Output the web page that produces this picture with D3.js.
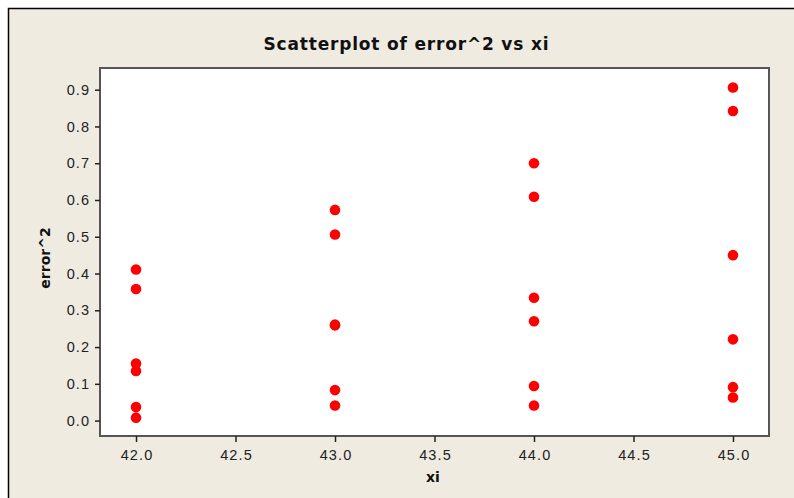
<!DOCTYPE html>
<html><head><meta charset="utf-8">
<script src="https://cdn.jsdelivr.net/npm/d3@7"></script>
<style>
html,body{margin:0;padding:0;background:#fff;}
svg{display:block;}
</style></head>
<body>
<script>
const title = "Scatterplot of error^2 vs xi";
const xLabel = "xi";
const yLabel = "error^2";
const xi = [42,42,42,42,42,42, 43,43,43,43,43,43, 44,44,44,44,44,44, 45,45,45,45,45,45];
const errorSq = [0.411,0.358,0.155,0.135,0.037,0.008,
                 0.573,0.506,0.261,0.259,0.083,0.041,
                 0.700,0.609,0.334,0.270,0.094,0.041,
                 0.906,0.842,0.450,0.221,0.091,0.063];
const xTicks = [42.0,42.5,43.0,43.5,44.0,44.5,45.0];
const yTicks = [0.0,0.1,0.2,0.3,0.4,0.5,0.6,0.7,0.8,0.9];

const W=794,H=498;
const L=100,R=769,T=68,B=436;
const svg=d3.select("body").append("svg").attr("width",W).attr("height",H);
svg.append("rect").attr("x",8).attr("y",8).attr("width",W).attr("height",H).attr("fill","#EFEBE1");
svg.append("path").attr("d",`M8.5,${H} V8.5 H${W}`).attr("fill","none").attr("stroke","#000").attr("stroke-width",1.5);

const x=d3.scaleLinear().domain([41.819,45.181]).range([L,R]);
const y=d3.scaleLinear().domain([-0.0419,0.959]).range([B,T]);

svg.append("rect").attr("x",L).attr("y",T).attr("width",R-L).attr("height",B-T)
  .attr("fill","#fff").attr("stroke","#555").attr("stroke-width",2);

const font="'Liberation Sans', Arial, sans-serif";
const tfont="'DejaVu Sans', Verdana, sans-serif";
const xa=svg.append("g").attr("transform",`translate(0,${B})`)
  .call(d3.axisBottom(x).tickValues(xTicks).tickFormat(d3.format(".1f")).tickSize(6).tickPadding(5));
const ya=svg.append("g").attr("transform",`translate(${L},0)`)
  .call(d3.axisLeft(y).tickValues(yTicks).tickFormat(d3.format(".1f")).tickSize(5).tickPadding(6));
[xa,ya].forEach(g=>{
  g.select(".domain").remove();
  g.selectAll(".tick line").attr("stroke","#222").attr("stroke-width",1.5);
  g.selectAll(".tick text").attr("fill","#222").style("font-family",font).style("font-size","14.5px").attr("letter-spacing","1.1px");
});
ya.selectAll(".tick text").attr("dx","1.1px");
xa.selectAll(".tick text").attr("dy","0.9em").attr("dx","0.5px");

svg.append("g").selectAll("circle").data(xi).join("circle")
  .attr("cx",(d)=>x(d)).attr("cy",(d,i)=>y(errorSq[i])).attr("r",5.3).attr("fill","#FF0000");

svg.append("text").attr("x",406).attr("y",50).attr("text-anchor","middle")
  .style("font-family",tfont).style("font-size","17px").style("font-weight","bold").attr("fill","#111")
  .attr("textLength",285).attr("lengthAdjust","spacing")
  .text(title);
svg.append("text").attr("x",433).attr("y",482).attr("text-anchor","middle")
  .style("font-family",tfont).style("font-size","14px").style("font-weight","bold").attr("fill","#111")
  .text(xLabel);
svg.append("text").attr("transform","translate(50,258) rotate(-90)").attr("text-anchor","middle")
  .style("font-family",tfont).style("font-size","14px").style("font-weight","bold").attr("fill","#111")
  .text(yLabel);
</script>
</body></html>
